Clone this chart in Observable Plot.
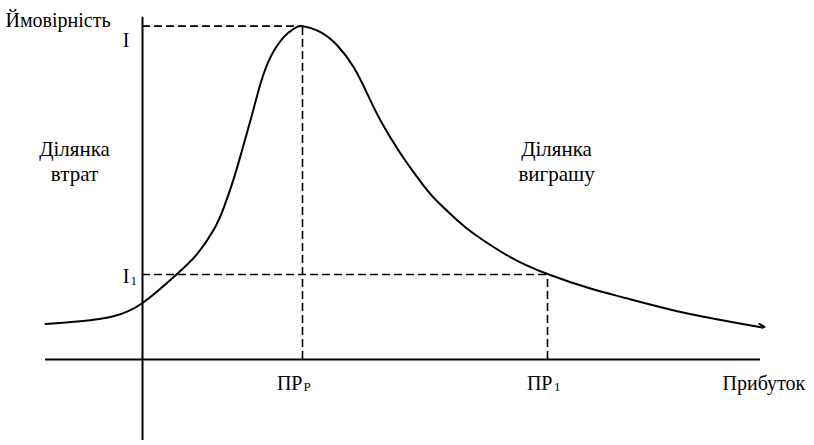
<!DOCTYPE html>
<html>
<head>
<meta charset="utf-8">
<script src="https://cdn.jsdelivr.net/npm/d3@7"></script>
<script src="https://cdn.jsdelivr.net/npm/@observablehq/plot@0.6"></script>
<style>
  html, body { margin: 0; padding: 0; background: #fff; }
  svg text { font-family: "Liberation Serif", "Times New Roman", serif !important; }
</style>
</head>
<body>
<div id="chart"></div>
<script>
// Profit (x) and probability (y) of the curve, in arbitrary units
const curveX = [-2.425, -1.55, -0.725, 0, 0.85, 1.37, 1.78, 2.03, 2.28, 2.49, 2.7, 2.95, 3.2, 3.53, 3.78, 4.0, 4.45, 4.87, 5.28, 5.62, 5.95, 6.45, 6.875, 7.275, 7.875, 8.275, 9.125, 10.125, 11.2, 12.125, 13.625, 15.5];
const curveY = [1.065, 1.149, 1.299, 1.695, 2.55, 3.17, 3.89, 4.55, 5.42, 6.28, 7.18, 8.27, 9.07, 9.67, 9.92, 10.0, 9.82, 9.42, 8.77, 7.97, 7.17, 6.18, 5.46, 4.86, 4.17, 3.78, 3.12, 2.565, 2.13, 1.83, 1.38, 0.96];
// small hook at the end of the curve
const hookX = [15.42, 15.55, 15.5];
const hookY = [1.07, 0.98, 0.96];

// key values
const peakProfit = 4.0;     // ПР_Р
const peakProb = 10.0;      // I
const profit1 = 10.125;     // ПР_1
const prob1 = 2.55;         // I_1

// axes extents
const axisXRange = [-2.425, 15.45];
const axisYRange = [-2.43, 10.27];

// texts
const yTitle = "Ймовірність";
const xTitle = "Прибуток";
const lossLabel = "Ділянка\nвтрат";
const gainLabel = "Ділянка\nвиграшу";
const labelI = "I";
const labelI1 = ["I", "1"];
const labelPRP = ["ПР", "Р"];
const labelPR1 = ["ПР", "1"];

const curve = curveX.map((x, i) => ({x, y: curveY[i]}));
const hook = hookX.map((x, i) => ({x, y: hookY[i]}));

const dash = "8,4";
const font = "Liberation Serif";
const fs = 20, fsSub = 13;

const chart = Plot.plot({
  width: 814,
  height: 445,
  margin: 0,
  x: {domain: [-3.55, 16.8], axis: null},
  y: {domain: [-2.58, 10.77], axis: null},
  style: {background: "white", fontFamily: font, color: "black"},
  marks: [
    // axes
    Plot.ruleY([0], {x1: axisXRange[0], x2: axisXRange[1], stroke: "black", strokeWidth: 2}),
    Plot.ruleX([0], {y1: axisYRange[0], y2: axisYRange[1], stroke: "black", strokeWidth: 2}),
    // dashed guides
    Plot.ruleY([peakProb], {x1: 0, x2: peakProfit, stroke: "black", strokeWidth: 1.6, strokeDasharray: dash}),
    Plot.ruleX([peakProfit], {y1: 0, y2: peakProb, stroke: "black", strokeWidth: 1.6, strokeDasharray: dash}),
    Plot.ruleY([prob1], {x1: 0, x2: profit1, stroke: "black", strokeWidth: 1.6, strokeDasharray: dash}),
    Plot.ruleX([profit1], {y1: 0, y2: prob1, stroke: "black", strokeWidth: 1.6, strokeDasharray: dash}),
    // curve
    Plot.line(curve, {x: "x", y: "y", curve: "natural", stroke: "black", strokeWidth: 2}),
    Plot.line(hook, {x: "x", y: "y", stroke: "black", strokeWidth: 2}),
    // axis titles
    Plot.text([yTitle], {x: -3.425, y: 9.99, text: d => d, textAnchor: "start", lineAnchor: "bottom", fontSize: fs}),
    Plot.text([xTitle], {x: 14.5, y: 0, dy: 30, text: d => d, textAnchor: "start", lineAnchor: "bottom", fontSize: fs}),
    // I
    Plot.text([labelI], {x: 0, y: peakProb, dx: -13, dy: 21, text: d => d, textAnchor: "end", lineAnchor: "bottom", fontSize: fs}),
    // I1
    Plot.text([labelI1[0]], {x: 0, y: prob1, dx: -13, dy: 8, text: d => d, textAnchor: "end", lineAnchor: "bottom", fontSize: fs}),
    Plot.text([labelI1[1]], {x: 0, y: prob1, dx: -12, dy: 10, text: d => d, textAnchor: "start", lineAnchor: "bottom", fontSize: fsSub}),
    // ПР_Р
    Plot.text([labelPRP[0]], {x: peakProfit, y: 0, dy: 30, text: d => d, textAnchor: "end", lineAnchor: "bottom", fontSize: fs}),
    Plot.text([labelPRP[1]], {x: peakProfit, y: 0, dx: 1, dy: 31.5, text: d => d, textAnchor: "start", lineAnchor: "bottom", fontSize: fsSub}),
    // ПР_1
    Plot.text([labelPR1[0]], {x: profit1, y: 0, dx: 5, dy: 30, text: d => d, textAnchor: "end", lineAnchor: "bottom", fontSize: fs}),
    Plot.text([labelPR1[1]], {x: profit1, y: 0, dx: 6.5, dy: 31.5, text: d => d, textAnchor: "start", lineAnchor: "bottom", fontSize: fsSub}),
    // region labels
    Plot.text([lossLabel], {x: -1.7, y: 5.37, text: d => d, textAnchor: "middle", lineAnchor: "bottom", lineHeight: 1.15, fontSize: 21}),
    Plot.text([gainLabel], {x: 10.35, y: 5.37, text: d => d, textAnchor: "middle", lineAnchor: "bottom", lineHeight: 1.15, fontSize: 21})
  ]
});

document.getElementById("chart").append(chart);
</script>
</body>
</html>
